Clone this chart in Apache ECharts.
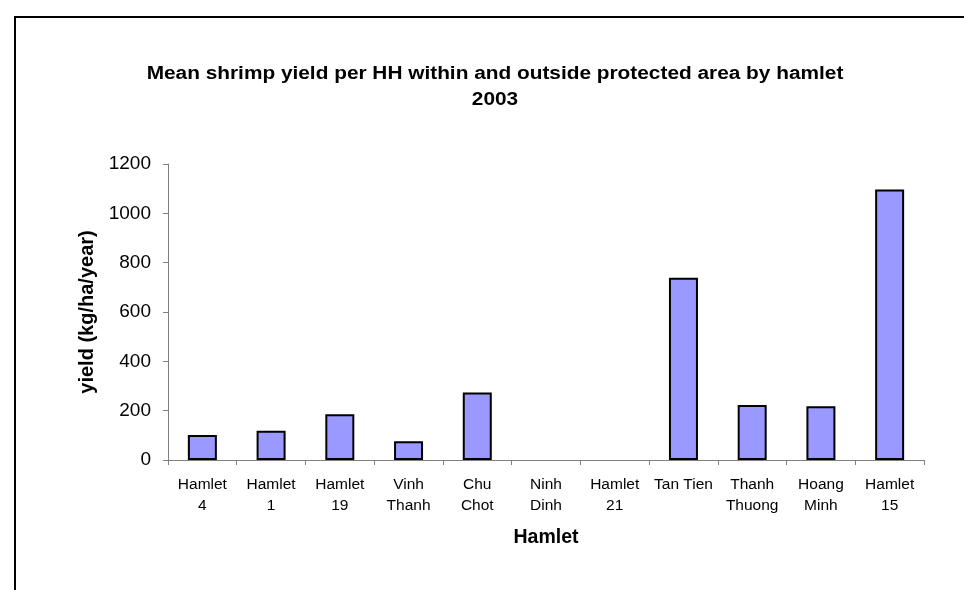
<!DOCTYPE html>
<html>
<head>
<meta charset="utf-8">
<script src="https://cdn.jsdelivr.net/npm/echarts@6/dist/echarts.min.js"></script>
<style>
  html, body { margin: 0; padding: 0; background: #ffffff; }
  #chart { width: 964px; height: 590px; }
</style>
</head>
<body>
<div id="chart"></div>
<script>
// Hamlet names (two-line labels) and mean yield per household, kg/ha/year
const hamlets = ['Hamlet\n4', 'Hamlet\n1', 'Hamlet\n19', 'Vinh\nThanh', 'Chu\nChot', 'Ninh\nDinh',
                 'Hamlet\n21', 'Tan Tien', 'Thanh\nThuong', 'Hoang\nMinh', 'Hamlet\n15'];
const yieldValues = [101, 119, 185, 76, 274, 0, 0, 739, 223, 218, 1097];
const yTicks = { min: 0, max: 1200, interval: 200 };
const titleLines = ['Mean shrimp yield per HH within and outside protected area by hamlet', '2003'];

const chart = echarts.init(document.getElementById('chart'), null, { renderer: 'canvas' });
const font = '"Liberation Sans", Arial, sans-serif';

// hamlets with no recorded yield get no outlined stub on the baseline
const barData = yieldValues.map(v => v === 0
  ? { value: v, itemStyle: { borderWidth: 0 } }
  : v);

chart.setOption({
  backgroundColor: '#ffffff',
  animation: false,
  graphic: [
    {
      type: 'rect',
      shape: { x: 15, y: 17, width: 1000, height: 1000 },
      style: { fill: 'none', stroke: '#000', lineWidth: 2 },
      silent: true
    },
    {
      type: 'text',
      x: 495, y: 61.5,
      scaleX: 1.19,
      style: {
        text: titleLines.join('\n'),
        x: 0, y: 0,
        align: 'center',
        verticalAlign: 'top',
        fontFamily: font, fontSize: 17.5, fontWeight: 'bold', fill: '#000',
        lineHeight: 26
      },
      silent: true
    }
  ],
  grid: { left: 168, right: 40, top: 164, bottom: 130, containLabel: false },
  xAxis: {
    type: 'category',
    data: hamlets,
    boundaryGap: true,
    name: 'Hamlet',
    nameLocation: 'middle',
    nameGap: 68,
    nameTextStyle: { fontFamily: font, fontSize: 19.5, fontWeight: 'bold', color: '#000' },
    axisLine: { lineStyle: { color: '#808080', width: 1 } },
    axisTick: { show: true, alignWithLabel: false, length: 5, lineStyle: { color: '#808080' } },
    axisLabel: { fontFamily: font, fontSize: 15.5, color: '#000', lineHeight: 21, margin: 14, interval: 0 },
    splitLine: { show: false }
  },
  yAxis: {
    type: 'value',
    min: yTicks.min,
    max: yTicks.max,
    interval: yTicks.interval,
    name: 'yield (kg/ha/year)',
    nameLocation: 'middle',
    nameGap: 70,
    nameTextStyle: { fontFamily: font, fontSize: 20, fontWeight: 'bold', color: '#000' },
    axisLine: { show: true, lineStyle: { color: '#808080', width: 1 } },
    axisTick: { show: true, length: 5, lineStyle: { color: '#808080' } },
    axisLabel: { fontFamily: font, fontSize: 19, color: '#000', margin: 17, formatter: v => String(v) },
    splitLine: { show: false }
  },
  series: [{
    type: 'bar',
    data: barData,
    barWidth: 29,
    itemStyle: { color: '#9999FF', borderColor: '#000', borderWidth: 2 }
  }]
});
</script>
</body>
</html>
